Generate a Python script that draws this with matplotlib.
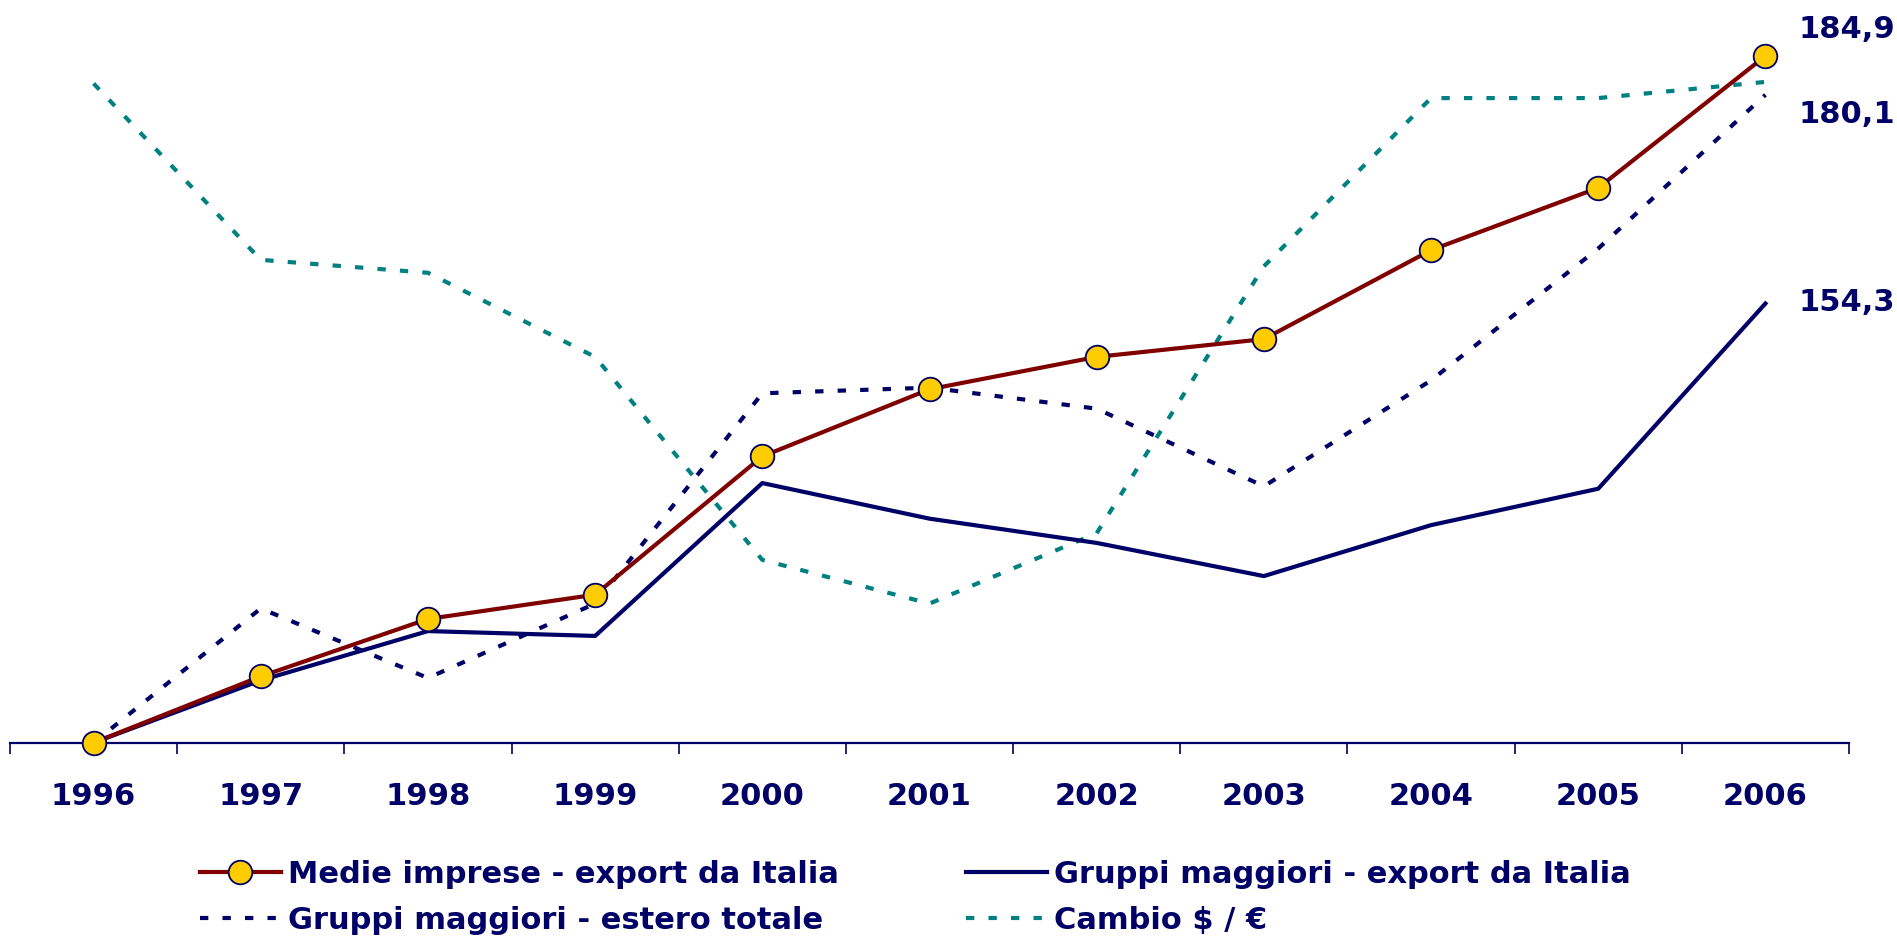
import matplotlib
matplotlib.use("Agg")
import matplotlib.pyplot as plt
import numpy as np

plt.rcParams.update({
    "font.family": "DejaVu Sans",
    "font.weight": "bold",
    "font.size": 22,
})

# data (index 1996 = 100)
years = ["1996", "1997", "1998", "1999", "2000", "2001",
         "2002", "2003", "2004", "2005", "2006"]
medie_export = [100.0, 108.2, 115.3, 118.3, 135.4, 143.7, 147.7, 149.9, 160.9, 168.6, 184.9]
gruppi_export = [100.0, 107.7, 113.8, 113.2, 132.1, 127.7, 124.7, 120.6, 126.9, 131.4, 154.3]
gruppi_estero = [100.0, 116.6, 108.0, 117.2, 143.2, 143.9, 141.3, 131.7, 144.8, 161.1, 180.1]
cambio = [181.5, 159.7, 158.1, 147.7, 122.6, 117.2, 125.9, 158.9, 179.7, 179.7, 181.7]

end_labels = ["184,9", "180,1", "154,3"]

NAVY = "#000066"
COLORS = {
    "medie": "#800000",
    "marker": "#FFCC00",
    "gruppi": NAVY,
    "cambio": "#008080",
}

fig = plt.figure(figsize=(18.97, 9.36), dpi=100)
ax = fig.add_axes([10 / 1897, (936 - 742.7) / 936, 1839 / 1897, 742.7 / 936])

x = np.arange(len(years))
dash = (0, (2.0, 3.4))

ax.plot(x, cambio, color=COLORS["cambio"], lw=3.0, ls=dash, label="Cambio $ / €")
ax.plot(x, gruppi_estero, color=COLORS["gruppi"], lw=3.0, ls=dash,
        label="Gruppi maggiori - estero totale")
ax.plot(x, gruppi_export, color=COLORS["gruppi"], lw=3.0,
        label="Gruppi maggiori - export da Italia")
ax.plot(x, medie_export, color=COLORS["medie"], lw=3.0, marker="o", ms=17,
        mfc=COLORS["marker"], mec=NAVY, mew=1.3,
        label="Medie imprese - export da Italia", clip_on=False, zorder=5)

# value labels at the 2006 end of each series
ends = [medie_export[-1], gruppi_estero[-1], gruppi_export[-1]]
offsets = [(24, 19), (24, -14), (24, 1)]
for val, txt, off in zip(ends, end_labels, offsets):
    ax.annotate(txt, xy=(x[-1], val), xytext=off, textcoords="offset points",
                ha="left", va="center", color=NAVY, fontsize=22,
                fontweight="bold", annotation_clip=False)

ax.set_xlim(-0.5, len(years) - 0.5)
ax.set_ylim(100, 100 + 742.7 / 8.088)

for side in ("left", "right", "top"):
    ax.spines[side].set_visible(False)
ax.spines["bottom"].set_color(NAVY)
ax.spines["bottom"].set_linewidth(1.6)
ax.set_yticks([])

ax.set_xticks(x)
ax.set_xticklabels(years)
ax.set_xticks(np.arange(len(years) + 1) - 0.5, minor=True)
ax.tick_params(axis="x", which="major", length=0, pad=28, labelcolor=NAVY,
               labelsize=22)
ax.tick_params(axis="x", which="minor", length=8, width=1.2, color=NAVY,
               direction="out")

handles, labels = ax.get_legend_handles_labels()
order = [3, 1, 2, 0]
leg = fig.legend([handles[i] for i in order], [labels[i] for i in order],
                 loc="upper left", bbox_to_anchor=(200 / 1897, 0.0815),
                 ncol=2, frameon=False, borderpad=0, borderaxespad=0,
                 handlelength=2.65, handletextpad=0.23, columnspacing=4.15,
                 labelspacing=0.55, prop={"size": 22, "weight": "bold"})
for t in leg.get_texts():
    t.set_color(NAVY)

fig.savefig("out.png", dpi=100)
